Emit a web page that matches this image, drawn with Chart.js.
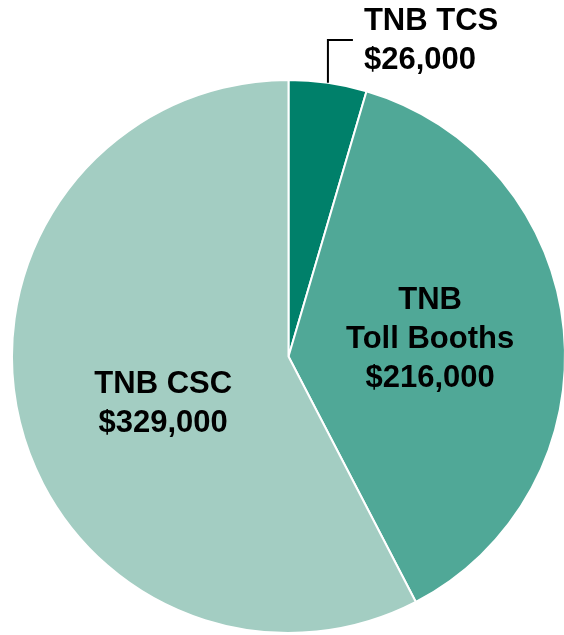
<!DOCTYPE html>
<html>
<head>
<meta charset="utf-8">
<script src="https://cdn.jsdelivr.net/npm/chart.js@4.4.1/dist/chart.umd.min.js"></script>
<style>
  html, body { margin: 0; padding: 0; background: #fff; overflow: hidden; }
  #wrap { position: relative; width: 580px; height: 635px; }
</style>
</head>
<body>
<div id="wrap"><canvas id="pieChart"></canvas></div>
<script>
// Dados do gráfico
const segmentNames = ['TNB TCS', 'TNB Toll Booths', 'TNB CSC'];
const segmentLines = [['TNB TCS'], ['TNB', 'Toll Booths'], ['TNB CSC']];
const segmentValues = [26000, 216000, 329000];
const segmentColors = ['#00806a', '#50a897', '#a3cdc2'];

// Formata valores em dólar
function formatMoney(value) {
    return '$' + value.toLocaleString('en-US');
}

// Plugin para desenhar rótulos (dentro e com linha de chamada)
const pieLabels = {
    id: 'pieLabels',
    afterDatasetsDraw(chart, args, opts) {
        const ctx = chart.ctx;
        const meta = chart.getDatasetMeta(0);
        const lineH = opts.lineHeight;
        ctx.save();
        ctx.font = opts.font;
        ctx.fillStyle = '#000';
        ctx.textBaseline = 'alphabetic';

        meta.data.forEach((arc, i) => {
            const lines = [...segmentLines[i], formatMoney(segmentValues[i])];
            const mode = opts.modes[i];

            if (mode === 'callout') {
                const mid = (arc.startAngle + arc.endAngle) / 2;
                const x0 = arc.x + Math.cos(mid) * arc.outerRadius;
                const y0 = arc.y + Math.sin(mid) * arc.outerRadius;
                const yTop = chart.chartArea.top - opts.calloutRise;
                const x1 = x0 + opts.calloutRun;
                ctx.strokeStyle = '#000';
                ctx.lineWidth = 2;
                ctx.beginPath();
                ctx.moveTo(x0, y0);
                ctx.lineTo(x0, yTop);
                ctx.lineTo(x1, yTop);
                ctx.stroke();

                ctx.textAlign = 'left';
                lines.forEach((t, k) => {
                    ctx.fillText(t, x1 + 11, yTop - 10 + k * lineH);
                });
            } else {
                const pos = arc.tooltipPosition();
                const off = opts.offsets[i] || [0, 0];
                const cx = pos.x + off[0];
                const cy = pos.y + off[1];
                const firstBase = cy - ((lines.length - 1) * lineH) / 2 + 11;
                ctx.textAlign = 'center';
                lines.forEach((t, k) => {
                    ctx.fillText(t, cx, firstBase + k * lineH);
                });
            }
        });
        ctx.restore();
    }
};

document.addEventListener('DOMContentLoaded', function() {
    const ctx = document.getElementById('pieChart').getContext('2d');
    new Chart(ctx, {
        type: 'pie',
        data: {
            labels: segmentNames,
            datasets: [{
                data: segmentValues,
                backgroundColor: segmentColors,
                borderColor: '#ffffff',
                borderWidth: 2
            }]
        },
        options: {
            responsive: true,
            maintainAspectRatio: false,
            animation: false,
            layout: {
                padding: { top: 79, bottom: 1, left: 11, right: 14 }
            },
            plugins: {
                legend: { display: false },
                tooltip: { enabled: false },
                pieLabels: {
                    font: 'bold 31px "Liberation Sans", Arial, Helvetica, sans-serif',
                    lineHeight: 39,
                    modes: ['callout', 'inside', 'inside'],
                    offsets: [null, [4, -6], [9, 12]],
                    calloutRise: 39,
                    calloutRun: 25
                }
            }
        },
        plugins: [pieLabels]
    });
});
</script>
</body>
</html>
